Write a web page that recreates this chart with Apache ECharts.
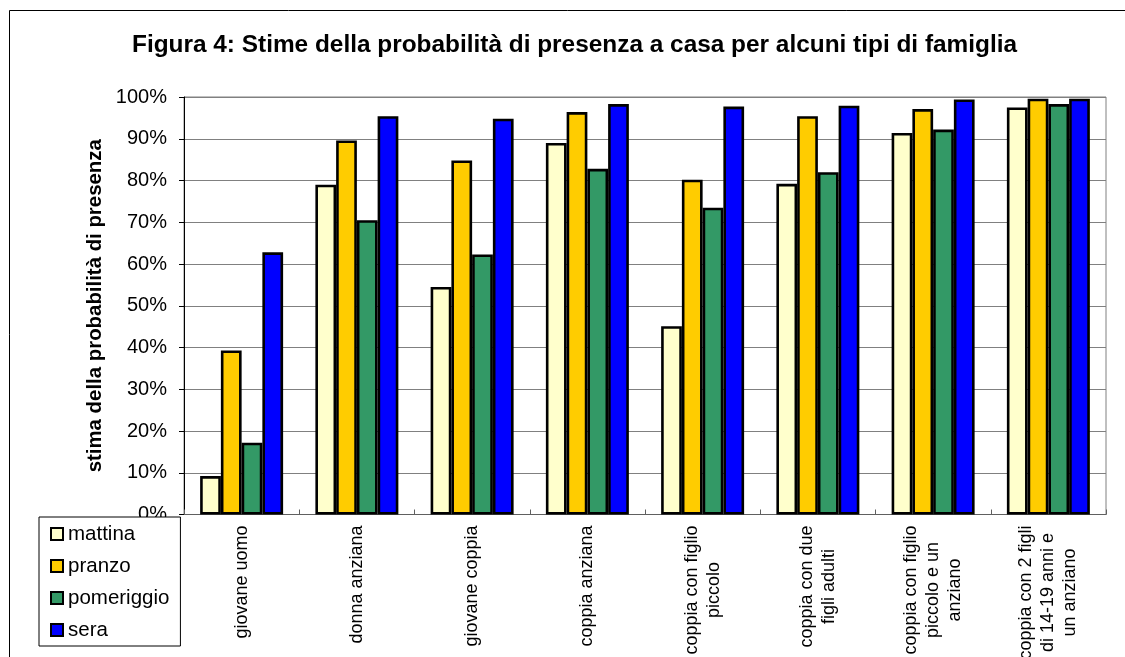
<!DOCTYPE html>
<html>
<head>
<meta charset="utf-8">
<script src="https://cdn.jsdelivr.net/npm/echarts@6/dist/echarts.min.js"></script>
<style>
html,body{margin:0;padding:0;background:#fff;}
#chart{width:1125px;height:657px;}
</style>
</head>
<body>
<div id="chart"></div>
<script>
var titleText = 'Figura 4: Stime della probabilità di presenza a casa per alcuni tipi di famiglia';
var yAxisName = 'stima della probabilità di presenza';
var categories = [
  'giovane uomo',
  'donna anziana',
  'giovane coppia',
  'coppia anziana',
  'coppia con figlio\npiccolo',
  'coppia con due\nfigli adulti',
  'coppia con figlio\npiccolo e un\nanziano',
  'coppia con 2 figli\ndi 14-19 anni e\nun anziano'
];
var seriesNames = ['mattina', 'pranzo', 'pomeriggio', 'sera'];
var mattina    = [0.092, 0.790, 0.545, 0.890, 0.451, 0.792, 0.914, 0.975];
var pranzo     = [0.393, 0.896, 0.848, 0.964, 0.802, 0.954, 0.971, 0.996];
var pomeriggio = [0.172, 0.705, 0.623, 0.828, 0.735, 0.820, 0.922, 0.983];
var sera       = [0.628, 0.954, 0.948, 0.983, 0.977, 0.979, 0.994, 0.996];
var seriesColors = ['#FFFFCC', '#FFCC00', '#339966', '#0000FF'];

var FONT = '"Liberation Sans", Arial, sans-serif';
var allData = [mattina, pranzo, pomeriggio, sera];

var chart = echarts.init(document.getElementById('chart'), null, {renderer: 'canvas'});
var option = {
  backgroundColor: '#ffffff',
  animation: false,
  textStyle: {fontFamily: FONT},
  graphic: [{
    type: 'rect',
    z: -10,
    silent: true,
    shape: {x: 9.5, y: 10.5, width: 1300, height: 800},
    style: {fill: 'none', stroke: '#000', lineWidth: 1}
  }],
  title: {
    text: titleText,
    left: 132,
    top: 33,
    padding: 0,
    textStyle: {fontFamily: FONT, fontSize: 24.4, fontWeight: 'bold', color: '#000'}
  },
  legend: {
    orient: 'vertical',
    left: 39,
    top: 517,
    z: 20,
    padding: [6, 11, 5, 11],
    itemGap: 10,
    itemWidth: 12,
    itemHeight: 12,
    icon: 'rect',
    backgroundColor: '#fff',
    borderColor: '#000',
    borderWidth: 1,
    borderRadius: 0,
    itemStyle: {borderColor: '#000', borderWidth: 2},
    textStyle: {fontFamily: FONT, fontSize: 20.5, lineHeight: 22, color: '#000', padding: 0},
    data: seriesNames
  },
  grid: {
    left: 184,
    right: 19,
    top: 97,
    bottom: 142.5,
    containLabel: false,
    outerBoundsMode: 'none',
    show: true,
    borderColor: '#808080',
    borderWidth: 1
  },
  xAxis: {
    type: 'category',
    data: categories,
    axisLine: {show: true, lineStyle: {color: '#606060', width: 1}},
    axisTick: {show: true, inside: true, length: 5, lineStyle: {color: '#606060'}},
    axisLabel: {
      rotate: 90,
      margin: 11,
      interval: 0,
      color: '#000',
      fontFamily: FONT,
      fontSize: 18,
      lineHeight: 22,
      formatter: function (v) {
        return v.split('\n').map(function (l) { return '{c|' + l + '}'; }).join('\n');
      },
      rich: {
        c: {align: 'center', fontFamily: FONT, fontSize: 18, lineHeight: 22, color: '#000'}
      }
    },
    splitLine: {show: false}
  },
  yAxis: {
    type: 'value',
    min: 0,
    max: 1,
    interval: 0.1,
    name: yAxisName,
    nameLocation: 'middle',
    nameGap: 78,
    nameRotate: 90,
    nameTextStyle: {fontFamily: FONT, fontSize: 20.4, fontWeight: 'bold', color: '#000'},
    axisLine: {show: true, lineStyle: {color: '#000', width: 1}},
    axisTick: {show: true, inside: false, length: 5, lineStyle: {color: '#000'}},
    axisLabel: {
      margin: 17,
      color: '#000',
      fontFamily: FONT,
      fontSize: 20,
      formatter: function (v) { return Math.round(v * 100) + '%'; }
    },
    splitLine: {show: true, lineStyle: {color: '#808080', width: 1}}
  },
  series: seriesNames.map(function (name, i) {
    return {
      name: name,
      type: 'bar',
      data: allData[i],
      barGap: '0%',
      barCategoryGap: '28%',
      itemStyle: {color: seriesColors[i], borderColor: '#000', borderWidth: 2.6},
      emphasis: {disabled: true}
    };
  })
};
chart.setOption(option);
</script>
</body>
</html>
